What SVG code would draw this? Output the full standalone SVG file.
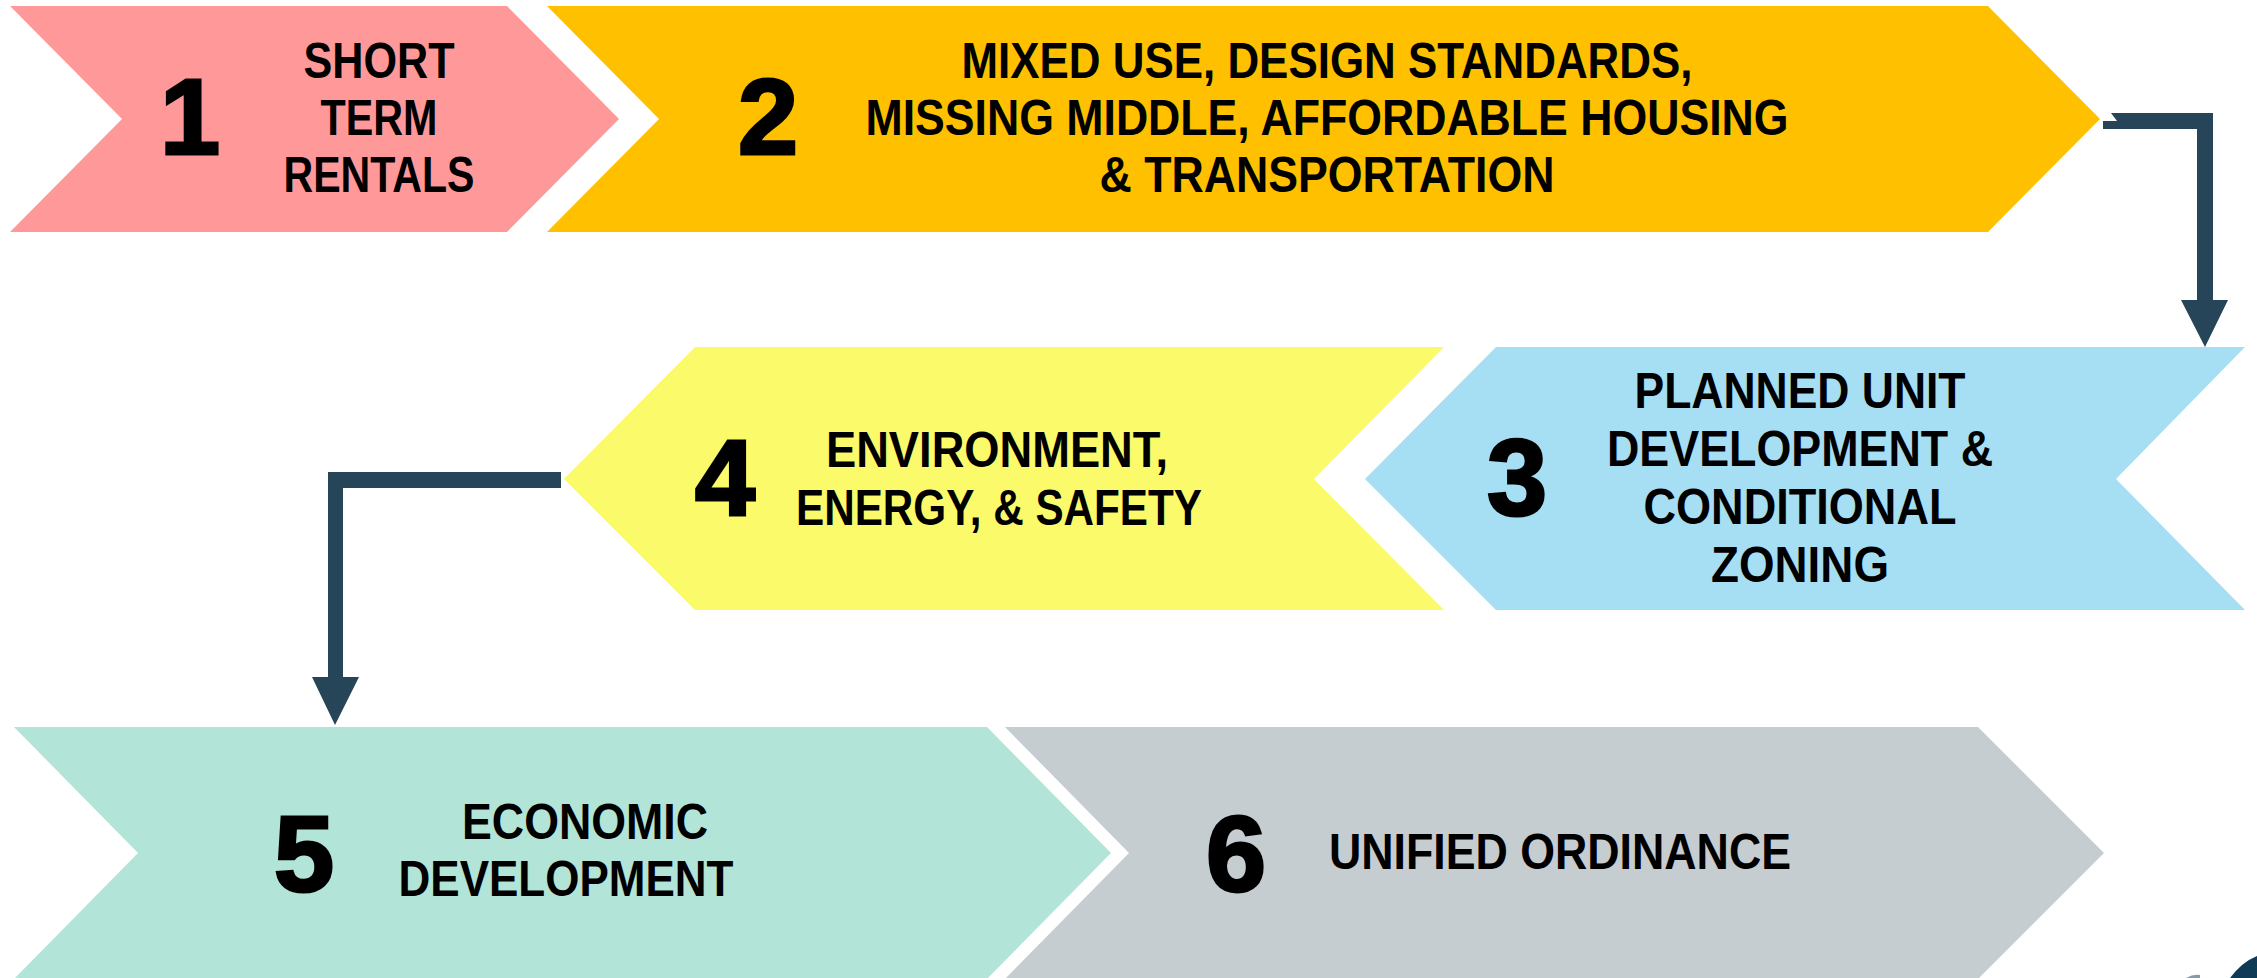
<svg xmlns="http://www.w3.org/2000/svg" width="2257" height="978" viewBox="0 0 2257 978">
<style>
.lbl{font-family:"Liberation Sans",Arial,sans-serif;font-weight:700;font-size:50px;fill:#000;text-anchor:middle}
.num{font-family:"Liberation Sans",Arial,sans-serif;font-weight:700;font-size:108px;fill:#000;stroke:#000;stroke-width:3;text-anchor:middle}
.conn{fill:#264559}
</style>
<rect width="2257" height="978" fill="#fff"/>
<g id="node1">
<polygon points="10,6 507,6 619,119 507,232 10,232 122,119" fill="#FF9999"/>
<text class="num" x="190" y="154">1</text>
<text class="lbl" x="379" y="78" textLength="151" lengthAdjust="spacingAndGlyphs">SHORT</text>
<text class="lbl" x="379" y="135" textLength="117" lengthAdjust="spacingAndGlyphs">TERM</text>
<text class="lbl" x="379" y="192" textLength="191" lengthAdjust="spacingAndGlyphs">RENTALS</text>
</g>
<g id="node2">
<polygon points="547,6 1988,6 2100,119 1988,232 547,232 659,119" fill="#FFC000"/>
<text class="num" x="768" y="154">2</text>
<text class="lbl" x="1327" y="78" textLength="731" lengthAdjust="spacingAndGlyphs">MIXED USE, DESIGN STANDARDS,</text>
<text class="lbl" x="1327" y="135" textLength="923" lengthAdjust="spacingAndGlyphs">MISSING MIDDLE, AFFORDABLE HOUSING</text>
<text class="lbl" x="1327" y="192" textLength="455" lengthAdjust="spacingAndGlyphs">&amp; TRANSPORTATION</text>
</g>
<g id="node3">
<polygon points="1496,347 2245,347 2116,479 2245,610 1496,610 1365,479" fill="#A6DEF4"/>
<text class="num" x="1517" y="515">3</text>
<text class="lbl" x="1800" y="408" textLength="331" lengthAdjust="spacingAndGlyphs">PLANNED UNIT</text>
<text class="lbl" x="1800" y="466" textLength="386" lengthAdjust="spacingAndGlyphs">DEVELOPMENT &amp;</text>
<text class="lbl" x="1800" y="524" textLength="313" lengthAdjust="spacingAndGlyphs">CONDITIONAL</text>
<text class="lbl" x="1800" y="582" textLength="178" lengthAdjust="spacingAndGlyphs">ZONING</text>
</g>
<g id="node4">
<polygon points="695,347 1444,347 1314,479 1444,610 695,610 564,479" fill="#FAFA6B"/>
<text class="num" x="725" y="515">4</text>
<text class="lbl" x="997" y="467" textLength="342" lengthAdjust="spacingAndGlyphs">ENVIRONMENT,</text>
<text class="lbl" x="999" y="525" textLength="406" lengthAdjust="spacingAndGlyphs">ENERGY, &amp; SAFETY</text>
</g>
<g id="node5">
<polygon points="14,727 987,727 1111,853 987,979 14,979 138,853" fill="#B3E4D8"/>
<text class="num" x="304" y="891">5</text>
<text class="lbl" x="585" y="839" textLength="246" lengthAdjust="spacingAndGlyphs">ECONOMIC</text>
<text class="lbl" x="566" y="896" textLength="335" lengthAdjust="spacingAndGlyphs">DEVELOPMENT</text>
</g>
<g id="node6">
<polygon points="1005,727 1978,727 2104,853 1978,979 1005,979 1129,853" fill="#C5CDD1"/>
<text class="num" x="1236" y="891">6</text>
<text class="lbl" x="1560" y="869" textLength="462" lengthAdjust="spacingAndGlyphs">UNIFIED ORDINANCE</text>
</g>
<g id="connectors">
<path class="conn" d="M2103,121 L2117,121 L2111,113 L2213,113 L2213,300 L2228,300 L2205,347 L2181,300 L2197,300 L2197,129 L2103,129 Z"/>
<path class="conn" d="M561,472 L328,472 L328,677 L312,677 L335,725 L359,677 L343,677 L343,488 L561,488 Z"/>
</g>
<path d="M2230,978 Q2242,962 2257,956 L2257,978 Z" fill="#0E3A55"/>
<path d="M2186,978 Q2193,974 2200,975 L2200,978 Z" fill="#8A9AA5"/>
</svg>
